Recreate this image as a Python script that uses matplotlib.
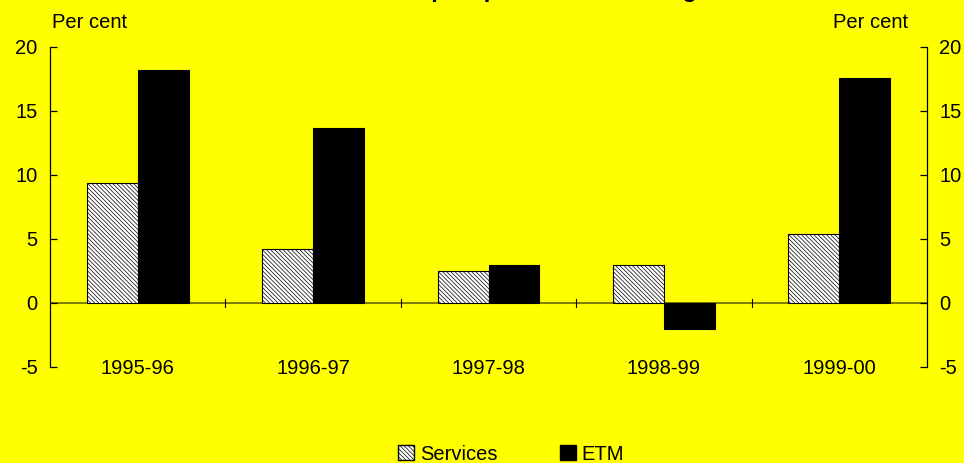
import matplotlib.pyplot as plt
import numpy as np
from matplotlib.patches import Patch

plt.rcParams['font.family'] = ['Liberation Sans', 'DejaVu Sans']
plt.rcParams['hatch.linewidth'] = 0.5

years = ["1995-96", "1996-97", "1997-98", "1998-99", "1999-00"]
services = [9.4, 4.2, 2.5, 2.95, 5.4]
etm = [18.2, 13.7, 2.95, -2.0, 17.6]
yticks = [-5, 0, 5, 10, 15, 20]

bg = "#ffff00"
fs = 14.5
fig = plt.figure(figsize=(9.64, 4.63), dpi=100, facecolor=bg)
ax = fig.add_axes([50 / 964, 1 - 367 / 463, 877 / 964, 320 / 463], facecolor=bg)

x = np.arange(len(years))
w = 0.29
ax.bar(x - w / 2, services, w, color="white", edgecolor="black", hatch="\\\\\\\\\\\\\\\\",
       linewidth=0.8, zorder=2)
ax.bar(x + w / 2, etm, w, color="black", edgecolor="black", linewidth=0.8, zorder=2)

ax.set_xlim(-0.5, len(years) - 0.5)
ax.set_ylim(-5, 20)
ax.axhline(0, color="#666600", linewidth=1.2, zorder=1)

# category boundary ticks on the zero line
for b in np.arange(0.5, len(years) - 0.5):
    ax.plot([b, b], [-0.35, 0.35], color="black", linewidth=0.8, zorder=3)

for s in ["top", "bottom"]:
    ax.spines[s].set_visible(False)
ax.spines["left"].set_linewidth(0.9)
ax.spines["right"].set_linewidth(0.9)
ax.set_xticks([])
ax.set_yticks(yticks)
ax.set_yticklabels([str(t) for t in yticks], fontsize=fs)
ax.tick_params(axis="y", direction="in", length=5, width=0.9, pad=9,
               left=True, right=True, labelleft=True, labelright=True)

for i, yr in enumerate(years):
    ax.text(i, -5.15, yr, ha="center", va="center", fontsize=fs,
            transform=ax.transData)

fig.text(52 / 964, 1 - 22 / 463, "Per cent", fontsize=fs, ha="left", va="center")
fig.text(908 / 964, 1 - 22 / 463, "Per cent", fontsize=fs, ha="right", va="center")

# title sits mostly above the top edge, as in the original
fig.text(0.49, 1 + 3 / 463, "Chart 4: Australia's export performance and growth",
         fontsize=17, fontweight="bold", ha="center", va="baseline")

handles = [Patch(facecolor="white", edgecolor="black", hatch="\\\\\\\\\\\\\\\\", label="Services"),
           Patch(facecolor="black", edgecolor="black", label="ETM")]
fig.legend(handles=handles, loc="center", bbox_to_anchor=(511 / 964, 1 - 454 / 463),
           ncol=2, frameon=False, fontsize=fs, handlelength=0.8, handleheight=0.8,
           columnspacing=3.1, handletextpad=0.3, borderaxespad=0)

fig.savefig("out.png", dpi=100, facecolor=bg)
